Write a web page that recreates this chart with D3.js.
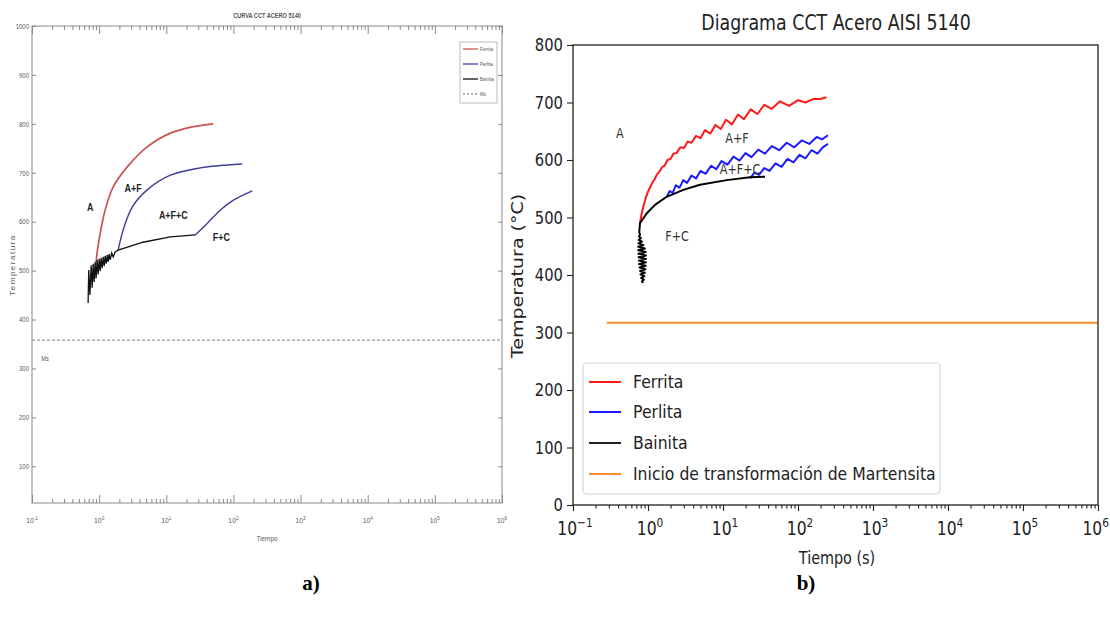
<!DOCTYPE html>
<html><head><meta charset="utf-8">
<script src="https://cdn.jsdelivr.net/npm/d3@7"></script>
<style>body{margin:0;background:#fff}svg{display:block}</style>
</head><body>
<svg id="c" width="1110" height="622"></svg>
<script>
// ---------- Panel a (MATLAB style) ----------
const aTitle = "CURVA CCT ACERO 5140";
const aXTicks = [0.1, 1, 10, 100, 1000, 1e4, 1e5, 1e6];
const aXExp = ["-1", "0", "1", "2", "3", "4", "5", "6"];
const aYTicks = [100, 200, 300, 400, 500, 600, 700, 800, 900, 1000];
const aFerritaTime = [0.9, 0.95, 1.04, 1.23, 1.62, 2.62, 5.2, 11.5, 25, 50];
const aFerritaTemp = [516, 545, 577, 624, 671, 712, 753, 781, 794, 800];
const aPerlita1Time = [1.92, 2.28, 3.11, 5.2, 11.5, 32, 81, 135];
const aPerlita1Temp = [542, 583, 630, 665, 695, 710, 716, 718];
const aPerlita2Time = [27, 41, 64, 100, 191];
const aPerlita2Temp = [573, 597, 624, 644, 663];
const aBainitaTime = [0.685, 0.700, 0.730, 0.760, 0.787, 0.815, 0.842, 0.871, 0.900, 0.933, 0.966, 1.0, 1.035, 1.07, 1.109, 1.15, 1.188, 1.23, 1.271, 1.32, 1.362, 1.41, 1.459, 1.54, 1.617, 1.733, 1.92, 4.5, 11.5, 27];
const aBainitaTemp = [434, 501, 450, 511, 465, 514, 477, 518, 484, 522, 492, 524, 499, 526, 505, 528, 509, 530, 514, 532, 518, 534, 522, 536, 528, 538, 542, 558, 569, 573];
const aMs = 358;
const aLegend = ["Ferrita", "Perlita", "Bainita", "Ms"];
const aRegions = ["A", "A+F", "A+F+C", "F+C"];
const aRegionTime = [0.734, 3.21, 12.7, 66.2];
const aRegionTemp = [630, 669, 614, 569];

// ---------- Panel b (matplotlib style) ----------
const bTitle = "Diagrama CCT Acero AISI 5140";
const bXTicks = [0.1, 1, 10, 100, 1000, 1e4, 1e5, 1e6];
const bXExp = ["\u22121", "0", "1", "2", "3", "4", "5", "6"];
const bYTicks = [0, 100, 200, 300, 400, 500, 600, 700, 800];
const bFerritaTime = [0.782, 0.813, 0.871, 0.933, 1.0, 1.072, 1.148, 1.230, 1.318, 1.413, 1.549, 1.660, 1.820, 1.995, 2.188, 2.399, 2.692, 3.020, 3.388, 3.802, 4.365, 5.012, 5.754, 6.761, 7.943, 9.333, 10.96, 13.18, 15.85, 19.05, 23.44, 28.84, 35.48, 44.67, 57.54, 75.86, 100, 125.9, 158.5, 199.5, 239.9];
const bFerritaTemp = [490, 503, 520, 534, 545, 553, 561, 567, 575, 579, 588, 590, 600, 602, 611, 612, 622, 621, 632, 630, 642, 638, 652, 646, 661, 654, 670, 662, 679, 671, 688, 680, 696, 689, 702, 694, 704, 700, 706, 706, 709];
const bPerlita1Time = [1.778, 1.950, 2.138, 2.344, 2.630, 2.951, 3.311, 3.802, 4.365, 5.012, 5.888, 6.918, 8.128, 9.550, 11.48, 13.80, 16.60, 19.95, 23.99, 29.51, 36.31, 44.67, 56.23, 70.79, 89.13, 112.2, 141.3, 177.8, 208.9, 251.2];
const bPerlita1Temp = [536, 546, 543, 556, 552, 565, 560, 573, 568, 581, 576, 590, 584, 598, 592, 606, 599, 612, 605, 618, 611, 624, 617, 630, 622, 634, 628, 640, 636, 643];
const bPerlita2Time = [22.91, 26.30, 30.20, 35.48, 41.69, 50.12, 60.26, 72.44, 87.10, 104.7, 125.9, 151.4, 182.0, 213.8, 251.2];
const bPerlita2Temp = [568, 578, 574, 586, 581, 594, 588, 602, 596, 609, 603, 617, 611, 622, 628];
const bBainitaTime = [0.857, 0.832, 0.881, 0.813, 0.895, 0.794, 0.908, 0.785, 0.923, 0.773, 0.933, 0.762, 0.940, 0.755, 0.944, 0.748, 0.940, 0.745, 0.933, 0.741, 0.908, 0.741, 0.871, 0.745, 0.832, 0.750, 0.804, 0.759, 0.785, 0.764, 0.771, 0.782, 0.959, 1.239, 1.774, 2.958, 4.93, 11.19, 22.9, 36.3];
const bBainitaTemp = [386, 389, 392, 395, 398, 401, 404, 407, 410, 413, 416, 419, 422, 425, 428, 431, 434, 437, 440, 443, 446, 449, 452, 455, 458, 461, 464, 467, 470, 474, 480, 490, 507, 522, 536, 548, 557, 565, 570, 571];
const bMsTime = [0.28, 1e6];
const bMsTemp = [317, 317];
const bLegend = ["Ferrita", "Perlita", "Bainita", "Inicio de transformación de Martensita"];
const bRegions = ["A", "A+F", "A+F+C", "F+C"];
const bRegionTime = [0.42, 15.4, 16.9, 2.44];
const bRegionTemp = [647, 638, 584, 468];

const svg = d3.select("#c");

function label(g, x, y, s, o) {
  o = o || {};
  const sx = o.sx || 1;
  const t = g.append("text")
    .attr("transform", `translate(${x},${y}) scale(${sx},1)` + (o.rot ? ` rotate(${o.rot})` : ""))
    .attr("text-anchor", o.anchor || "middle")
    .attr("dominant-baseline", "central")
    .attr("font-family", o.family || "DejaVu Sans")
    .attr("font-size", o.size || 12)
    .attr("font-weight", o.weight || "normal")
    .attr("fill", o.fill || "#000")
    .text(s);
  return t;
}
function powLabel(g, x, y, exp, o) {
  const t = g.append("text")
    .attr("transform", `translate(${x},${y}) scale(${o.sx || 1},1)`)
    .attr("text-anchor", o.anchor || "middle")
    .attr("font-family", o.family)
    .attr("font-size", o.size)
    .attr("fill", o.fill || "#000");
  t.append("tspan").text("10");
  t.append("tspan").attr("font-size", o.size * 0.68).attr("dy", -o.size * 0.42).text(exp);
  return t;
}
function minorTicks(lo, hi) {
  const out = [];
  for (let d = lo; d < hi; d++) for (let k = 2; k <= 9; k++) out.push(k * Math.pow(10, d));
  return out;
}

// ================= Panel a =================
(function () {
  const L = 32, R = 502, Tp = 26, B = 503;
  const x = d3.scaleLog().domain([0.1, 1e6]).range([L, R]);
  const y = d3.scaleLinear().domain([25, 1000]).range([B, Tp]);
  const g = svg.append("g");
  const axc = "#8a8a8a", txc = "#5a5a5a";
  const ff = "Liberation Sans";

  g.append("rect").attr("x", L).attr("y", Tp).attr("width", R - L).attr("height", B - Tp)
    .attr("fill", "none").attr("stroke", axc).attr("stroke-width", 1);

  const mins = minorTicks(-1, 6);
  const addAxis = (ax, tr) => {
    const a = g.append("g").attr("transform", tr).call(ax);
    a.select(".domain").remove();
    a.selectAll("line").attr("stroke", axc);
    a.selectAll("text").remove();
  };
  addAxis(d3.axisBottom(x).tickValues(aXTicks).tickSize(-8), `translate(0,${B})`);
  addAxis(d3.axisBottom(x).tickValues(mins).tickSize(-4), `translate(0,${B})`);
  addAxis(d3.axisTop(x).tickValues(aXTicks).tickSize(-8), `translate(0,${Tp})`);
  addAxis(d3.axisTop(x).tickValues(mins).tickSize(-4), `translate(0,${Tp})`);
  addAxis(d3.axisLeft(y).tickValues(aYTicks).tickSize(-4), `translate(${L},0)`);
  addAxis(d3.axisRight(y).tickValues(aYTicks).tickSize(-4), `translate(${R},0)`);

  aYTicks.forEach(v => label(g, L - 3, y(v), String(v), { anchor: "end", size: 7.5, family: ff, fill: txc, sx: 0.8 }));
  aXTicks.forEach((v, i) => powLabel(g, x(v), 523, aXExp[i], { size: 8, family: ff, fill: txc, sx: 0.85 }));

  label(g, (L + R) / 2, 15, aTitle, { size: 7, family: ff, weight: "bold", fill: "#555", sx: 0.8 });
  label(g, (L + R) / 2, 538, "Tiempo", { size: 7.5, family: ff, fill: txc, sx: 0.85 });
  label(g, 12, 265, "Temperatura", { size: 8, family: ff, fill: txc, rot: -90 }).attr("letter-spacing", 1.5);

  // Ms
  g.append("line").attr("x1", L).attr("x2", R).attr("y1", y(aMs)).attr("y2", y(aMs))
    .attr("stroke", "#999").attr("stroke-width", 1.3).attr("stroke-dasharray", "3,2");

  const line = d3.line().x(d => x(d[0])).y(d => y(d[1]));
  const smooth = d3.line().x(d => x(d[0])).y(d => y(d[1])).curve(d3.curveCatmullRom);
  const zip = (a, b) => a.map((v, i) => [v, b[i]]);
  g.append("path").attr("d", smooth(zip(aFerritaTime, aFerritaTemp))).attr("fill", "none").attr("stroke", "#cc5450").attr("stroke-width", 1.7);
  g.append("path").attr("d", smooth(zip(aPerlita1Time, aPerlita1Temp))).attr("fill", "none").attr("stroke", "#3d3d9c").attr("stroke-width", 1.4);
  g.append("path").attr("d", smooth(zip(aPerlita2Time, aPerlita2Temp))).attr("fill", "none").attr("stroke", "#3d3d9c").attr("stroke-width", 1.4);
  g.append("path").attr("d", line(zip(aBainitaTime, aBainitaTemp))).attr("fill", "none").attr("stroke", "#111").attr("stroke-width", 1.3);

  aRegions.forEach((s, i) => label(g, x(aRegionTime[i]), y(aRegionTemp[i]), s, { size: 10.5, family: ff, weight: "bold", fill: "#222", sx: 0.85 }));
  label(g, x(0.156), y(321), "Ms", { size: 7, family: ff, fill: "#555", sx: 0.8 });

  // legend
  const lg = g.append("g");
  lg.append("rect").attr("x", 460).attr("y", 42).attr("width", 37).attr("height", 61)
    .attr("fill", "#fff").attr("stroke", "#aaa").attr("stroke-width", 0.8);
  const lc = ["#cc5450", "#3d3d9c", "#111", "#999"];
  aLegend.forEach((s, i) => {
    const yy = 49 + i * 15;
    lg.append("line").attr("x1", 463).attr("x2", 478).attr("y1", yy).attr("y2", yy)
      .attr("stroke", lc[i]).attr("stroke-width", 1.3).attr("stroke-dasharray", i === 3 ? "2,2" : null);
    label(lg, 480, yy, s, { anchor: "start", size: 6, family: ff, fill: "#555", sx: 0.75 });
  });
})();

// ================= Panel b =================
(function () {
  const L = 573, R = 1098, Tp = 45, B = 505;
  const x = d3.scaleLog().domain([0.1, 1e6]).range([L, R]);
  const y = d3.scaleLinear().domain([0, 800]).range([B, Tp]);
  const g = svg.append("g");
  const SX = 0.85;

  const clipId = "clipb";
  g.append("clipPath").attr("id", clipId).append("rect").attr("x", L).attr("y", Tp).attr("width", R - L).attr("height", B - Tp);

  const line = d3.line().x(d => x(d[0])).y(d => y(d[1]));
  const zip = (a, b) => a.map((v, i) => [v, b[i]]);
  const pl = g.append("g").attr("clip-path", `url(#${clipId})`);
  pl.append("path").attr("d", line(zip(bFerritaTime, bFerritaTemp))).attr("fill", "none").attr("stroke", "#ff1a1a").attr("stroke-width", 2).attr("stroke-linejoin", "round");
  pl.append("path").attr("d", line(zip(bPerlita1Time, bPerlita1Temp))).attr("fill", "none").attr("stroke", "#1a1aff").attr("stroke-width", 2).attr("stroke-linejoin", "round");
  pl.append("path").attr("d", line(zip(bPerlita2Time, bPerlita2Temp))).attr("fill", "none").attr("stroke", "#1a1aff").attr("stroke-width", 2).attr("stroke-linejoin", "round");
  pl.append("path").attr("d", line(zip(bBainitaTime, bBainitaTemp))).attr("fill", "none").attr("stroke", "#000").attr("stroke-width", 2).attr("stroke-linejoin", "round");
  pl.append("path").attr("d", line(zip(bMsTime, bMsTemp))).attr("fill", "none").attr("stroke", "#ff8c2a").attr("stroke-width", 2);

  bRegions.forEach((s, i) => label(g, x(bRegionTime[i]), y(bRegionTemp[i]), s, { size: 14, fill: "#333", sx: 0.8 }));

  g.append("rect").attr("x", L).attr("y", Tp).attr("width", R - L).attr("height", B - Tp)
    .attr("fill", "none").attr("stroke", "#222").attr("stroke-width", 1.3);

  const addAxis = (ax, tr) => {
    const a = g.append("g").attr("transform", tr).call(ax);
    a.select(".domain").remove();
    a.selectAll("line").attr("stroke", "#222").attr("stroke-width", 1.1);
    a.selectAll("text").remove();
  };
  addAxis(d3.axisBottom(x).tickValues(bXTicks).tickSize(6), `translate(0,${B})`);
  addAxis(d3.axisBottom(x).tickValues(minorTicks(-1, 6)).tickSize(3.5), `translate(0,${B})`);
  addAxis(d3.axisLeft(y).tickValues(bYTicks).tickSize(6), `translate(${L},0)`);

  bYTicks.forEach(v => label(g, L - 10, y(v), String(v), { anchor: "end", size: 18, fill: "#222", sx: 0.82 }));
  bXTicks.forEach((v, i) => {
    const last = i === bXTicks.length - 1;
    powLabel(g, last ? 1109 : x(v) + 2, 535, bXExp[i], { size: 19, family: "DejaVu Sans", fill: "#222", sx: 0.82, anchor: last ? "end" : "middle" });
  });

  label(g, 836, 22, bTitle, { size: 20.5, fill: "#222", sx: SX });
  label(g, 837, 558, "Tiempo (s)", { size: 18, fill: "#222", sx: 0.8 });
  label(g, 518, 276, "Temperatura (°C)", { size: 19, fill: "#222", sx: 0.85, rot: -90 });

  // legend
  const lg = g.append("g");
  lg.append("rect").attr("x", 583).attr("y", 363).attr("width", 357).attr("height", 131).attr("rx", 4)
    .attr("fill", "#fff").attr("fill-opacity", 0.85).attr("stroke", "#d6d6d6").attr("stroke-width", 1.2);
  const lc = ["#ff1a1a", "#1a1aff", "#222", "#ff8c2a"];
  const ly = [382, 412, 443, 474];
  bLegend.forEach((s, i) => {
    lg.append("line").attr("x1", 589).attr("x2", 621).attr("y1", ly[i]).attr("y2", ly[i])
      .attr("stroke", lc[i]).attr("stroke-width", 2);
    label(lg, 633, ly[i], s, { anchor: "start", size: 18, fill: "#222", sx: 0.87 });
  });
})();

// sub-figure captions
label(svg, 311, 583, "a)", { size: 21, family: "Liberation Serif", weight: "bold" });
label(svg, 806, 583, "b)", { size: 21, family: "Liberation Serif", weight: "bold" });
</script>
</body></html>
